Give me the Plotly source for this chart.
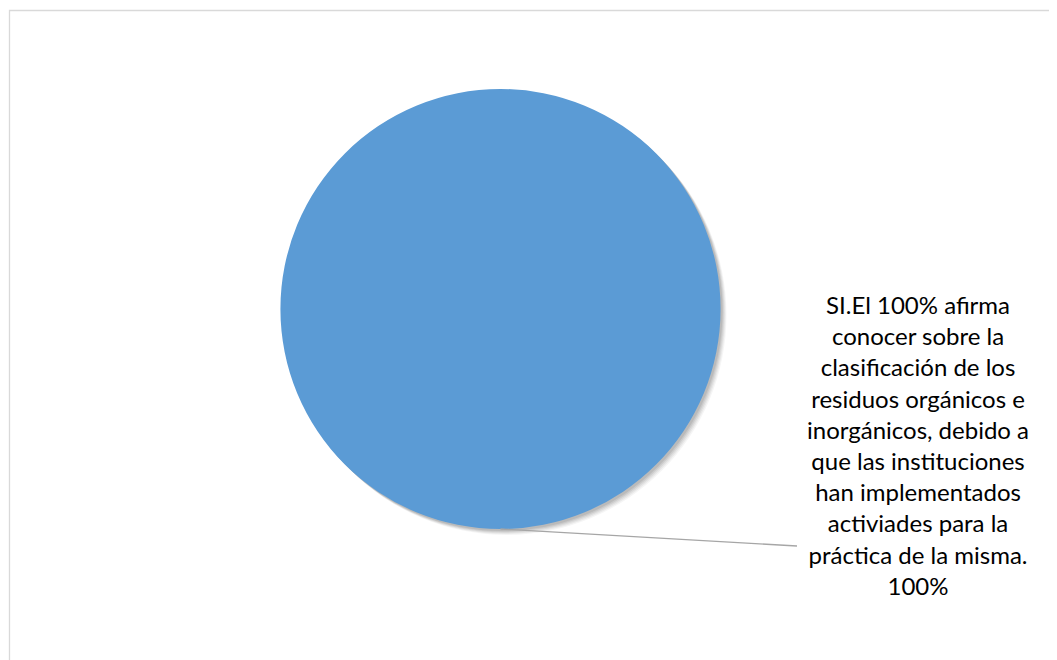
import plotly.graph_objects as go

labels = ["SI"]
values = [100]
label_text = ("SI.El 100% afirma<br>conocer sobre la<br>clasificación de los<br>residuos orgánicos e<br>"
              "inorgánicos, debido a<br>que las instituciones<br>han implementados<br>activiades para la<br>"
              "práctica de la misma.<br>100%")
colors = ["#5B9BD5"]

W, H = 1057, 660
OFF = 8  # page body margin
cx, cy, r = 500.5 - OFF, 309 - OFF, 220  # pie centre / radius in figure pixels

fig = go.Figure()
fig.add_trace(go.Pie(
    labels=labels, values=values, marker=dict(colors=colors, line=dict(width=0)),
    textinfo="none", hoverinfo="label+percent", sort=False, showlegend=False,
    domain=dict(x=[(cx - r) / W, (cx + r) / W], y=[1 - (cy + r) / H, 1 - (cy - r) / H]),
))

shapes = []
# soft shadow behind the pie
for off, op in [(6, 0.04), (5, 0.05), (4, 0.06), (3, 0.07), (2, 0.08)]:
    shapes.append(dict(type="circle", xref="paper", yref="paper", layer="below",
                       x0=(cx - r + off) / W, x1=(cx + r + off) / W,
                       y0=1 - (cy + r + off) / H, y1=1 - (cy - r + off) / H,
                       fillcolor=f"rgba(0,0,0,{op})", line=dict(width=0)))
# chart border
shapes.append(dict(type="rect", xref="paper", yref="paper",
                   x0=(9.5 - OFF) / W, x1=1.02, y0=-0.02, y1=1 - (10.5 - OFF) / H,
                   line=dict(color="#D9D9D9", width=1.3), fillcolor="rgba(0,0,0,0)"))
# leader line
shapes.append(dict(type="line", xref="paper", yref="paper",
                   x0=cx / W, y0=1 - (cy + r) / H, x1=(797 - OFF) / W, y1=1 - (546 - OFF) / H,
                   line=dict(color="#A6A6A6", width=1.3)))
fig.update_layout(shapes=shapes)

fig.add_annotation(text=label_text, xref="paper", yref="paper", x=(918 - OFF) / W, y=1 - (445 - OFF) / H,
                   xanchor="center", yanchor="middle", showarrow=False, align="center",
                   font=dict(family="Lato, Carlito, Calibri, sans-serif", size=24, color="#000000"))

fig.update_layout(width=W, height=H, margin=dict(l=0, r=0, t=0, b=0),
                  paper_bgcolor="white", plot_bgcolor="white")
fig.write_html("out.html")
